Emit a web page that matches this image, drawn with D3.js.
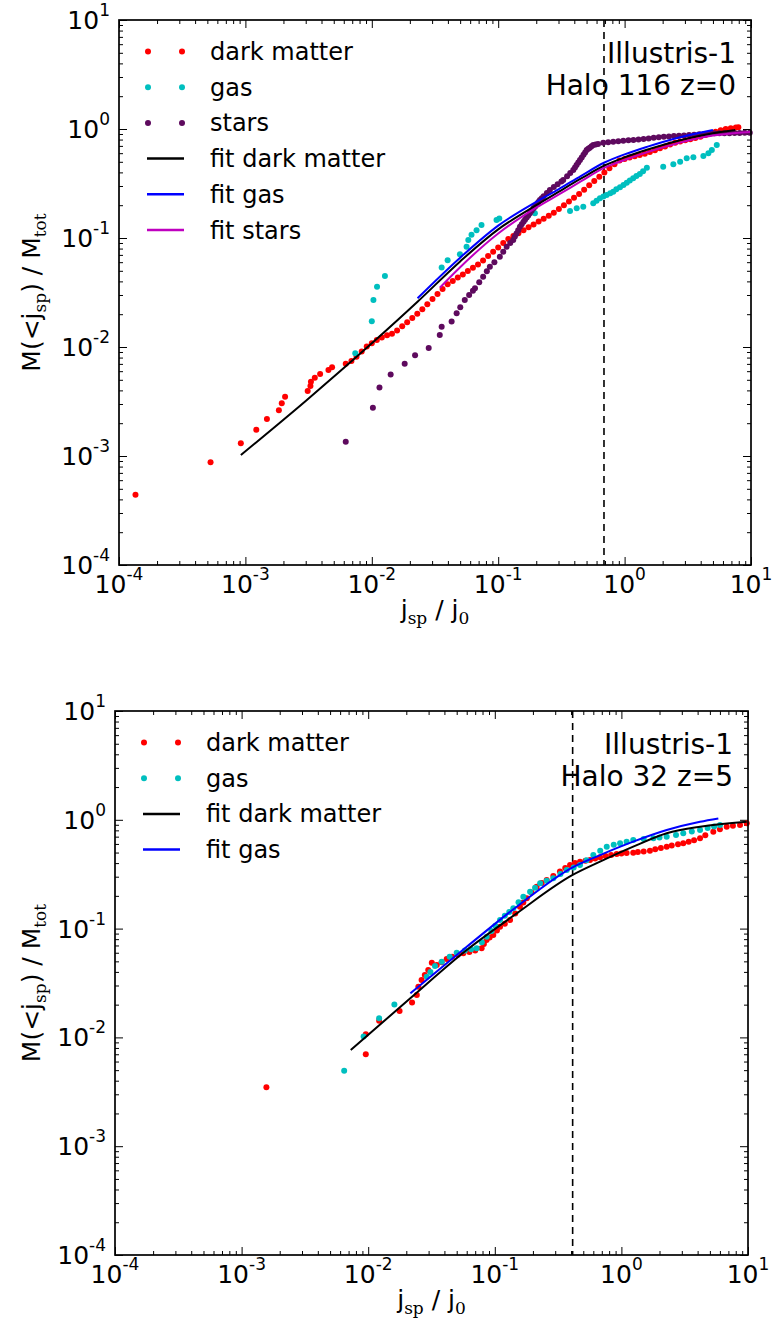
<!DOCTYPE html>
<html><head><meta charset="utf-8">
<script src="https://cdn.jsdelivr.net/npm/d3@7"></script>
<style>body{margin:0;background:#fff} svg{display:block}</style>
</head><body>
<svg id="chart" width="774" height="1333"></svg>
<script>
// ---------------- DATA ----------------
// x = j_sp / j_0 , y = M(<j_sp)/M_tot
const xTickValues = [1e-4, 1e-3, 1e-2, 1e-1, 1e0, 1e1];
const yTickValues = [1e-4, 1e-3, 1e-2, 1e-1, 1e0, 1e1];
const tickExponents = ["-4", "-3", "-2", "-1", "0", "1"];

// Panel 1 : Halo 116 z=0
const p1DarkMatter = [
 [1.35e-4,4.4e-4],[5.3e-4,8.75e-4],[9.2e-4,1.31e-3],[1.22e-3,1.74e-3],[1.48e-3,2.18e-3],[1.84e-3,2.63e-3],
 [1.94e-3,3.04e-3],[2.06e-3,3.5e-3],[3.11e-3,3.95e-3],[3.27e-3,4.39e-3],[3.3e-3,4.8e-3],[3.54e-3,5.23e-3],
 [3.9e-3,5.65e-3],[4.54e-3,6.15e-3],[4.85e-3,6.52e-3],[6.22e-3,7.03e-3],[6.9e-3,7.44e-3],[7.57e-3,8.14e-3],
 [8.32e-3,9.1e-3],[9.12e-3,1.01e-2],[1.0e-2,1.08e-2],[1.096e-2,1.16e-2],[1.2e-2,1.22e-2],[1.32e-2,1.28e-2],
 [1.445e-2,1.32e-2],[1.585e-2,1.42e-2],[1.74e-2,1.55e-2],[1.905e-2,1.69e-2],[2.09e-2,1.85e-2],[2.29e-2,2.02e-2],
 [2.51e-2,2.22e-2],[2.75e-2,2.47e-2],[3.02e-2,2.75e-2],[3.31e-2,3.06e-2],[3.63e-2,3.41e-2],[3.98e-2,3.77e-2],
 [4.37e-2,4.04e-2],[4.79e-2,4.33e-2],[5.25e-2,4.63e-2],[5.75e-2,4.97e-2],[6.31e-2,5.33e-2],[6.92e-2,5.71e-2],
 [7.59e-2,6.21e-2],[8.32e-2,6.82e-2],[9.12e-2,7.48e-2],[0.1,8.2e-2],[0.1096,9.02e-2],[0.1202,9.8e-2],
 [0.1318,0.1042],[0.1445,0.1107],[0.1585,0.1178],[0.1738,0.1253],[0.1905,0.133],[0.2089,0.1416],
 [0.229,0.1503],[0.2512,0.16],[0.2754,0.1702],[0.302,0.1845],[0.331,0.1995],[0.363,0.216],[0.398,0.234],
 [0.4365,0.2535],[0.4786,0.2773],[0.5248,0.304],[0.5754,0.3334],[0.631,0.3656],[0.6918,0.4],[0.7586,0.4355],
 [0.8318,0.4742],[0.912,0.5152],[1.0,0.532],[1.096,0.547],[1.202,0.5623],[1.318,0.5768],[1.445,0.593],
 [1.585,0.614],[1.738,0.638],[1.905,0.665],[2.089,0.692],[2.291,0.721],[2.512,0.746],[2.754,0.766],
 [3.02,0.787],[3.311,0.807],[3.631,0.828],[3.981,0.851],[4.365,0.881],[4.786,0.91],[5.248,0.942],
 [5.754,0.973],[6.31,1.0],[6.918,1.015],[7.586,1.03],[7.943,1.035]
];
const p1Gas = [
 [7.4e-3,8.75e-3],[1.0e-2,1.72e-2],[1.03e-2,2.7e-2],[1.1e-2,3.57e-2],[1.27e-2,4.48e-2],
 [3.57e-2,5.35e-2],[3.98e-2,6.24e-2],[4.98e-2,7.08e-2],[5.62e-2,8.32e-2],[5.8e-2,9.6e-2],[6.15e-2,0.107],
 [6.74e-2,0.118],[7.38e-2,0.1315],[9.7e-2,0.146],[0.102,0.151],[0.195,0.169],
 [0.37,0.177],[0.418,0.187],[0.471,0.194],[0.565,0.208],[0.6,0.22],[0.638,0.231],[0.68,0.24],[0.721,0.248],
 [0.77,0.257],[0.813,0.266],[0.86,0.28],[0.92,0.292],[0.98,0.307],[1.04,0.322],[1.1,0.337],[1.17,0.353],
 [1.24,0.37],[1.32,0.386],[1.4,0.41],[1.5,0.442],[2.02,0.451],[2.43,0.474],[2.75,0.501],[3.1,0.538],
 [3.5,0.55],[4.2,0.565],[4.6,0.598],[4.9,0.641],[5.36,0.713]
];
const p1Stars = [
 [6.22e-3,1.35e-3],[1.02e-2,2.77e-3],[1.15e-2,4.24e-3],[1.41e-2,5.6e-3],[1.82e-2,7.03e-3],[2.2e-2,8.4e-3],
 [2.82e-2,9.8e-3],[3.45e-2,1.29e-2],[3.57e-2,1.53e-2],[4.28e-2,1.71e-2],
 [0.0469,0.0204],[0.0501,0.0231],[0.0544,0.027],[0.0589,0.03],[0.0631,0.0329],[0.0655,0.0346],[0.0708,0.0393],
 [0.076,0.0442],[0.0813,0.0495],[0.0859,0.0546],[0.0933,0.06],[0.103,0.0673],[0.1096,0.0748],[0.1167,0.0832],
 [0.1245,0.0898],[0.1315,0.096],[0.1355,0.103],[0.1396,0.11],[0.144,0.118],[0.1486,0.127],[0.1535,0.134],
 [0.1585,0.1406],[0.163,0.147],[0.168,0.1538],[0.173,0.161],[0.178,0.1687],[0.184,0.178],
 [0.1905,0.187],[0.196,0.195],[0.2018,0.2042],[0.208,0.214],[0.2138,0.2234],[0.221,0.232],[0.229,0.2415],
 [0.2427,0.2582],[0.2564,0.2754],[0.2754,0.2931],
 [0.2951,0.3112],[0.3162,0.3304],[0.327,0.34],[0.3508,0.369],[0.3715,0.3945],[0.3926,0.4207],[0.405,0.443],
 [0.4169,0.4667],[0.43,0.492],[0.4436,0.52],[0.458,0.549],[0.4732,0.5808],[0.487,0.61],[0.501,0.6412],
 [0.516,0.658],[0.5309,0.6745],[0.548,0.694],[0.5649,0.7129],[0.59,0.722],[0.6166,0.7295],[0.6776,0.7482],
 [0.7413,0.7568],[0.8128,0.7656],[0.8913,0.7727],[0.9772,0.7798],[1.072,0.787],[1.175,0.794],[1.288,0.8017],
 [1.413,0.811],[1.549,0.82],[1.698,0.83],[1.862,0.839],[2.042,0.849],[2.239,0.855],[2.455,0.861],[2.692,0.867],
 [2.951,0.873],[3.236,0.879],[3.548,0.887],[3.89,0.893],[4.266,0.902],[4.677,0.908],[5.129,0.914],[5.623,0.914],
 [6.166,0.914],[6.761,0.916],[7.413,0.918],[8.128,0.92],[8.913,0.923],[9.772,0.925]
];
const p1FitDarkMatter = [
 [9.2e-4,1.02e-3],[3e-3,3.2e-3],[1e-2,1.08e-2],[2.3e-2,2.6e-2],[5e-2,6.1e-2],[0.1,0.12],[0.2,0.2],
 [0.3,0.265],[0.45,0.35],[0.687,0.46],[1.0,0.55],[1.5,0.645],[2.75,0.79],[5.0,0.915],[7.5,0.98]
];
const p1FitGas = [
 [2.3e-2,2.8e-2],[5e-2,6.6e-2],[0.1,0.13],[0.2,0.215],[0.3,0.28],[0.45,0.37],[0.687,0.49],[1.0,0.585],
 [1.5,0.685],[2.75,0.84],[5.0,0.98]
];
const p1FitStars = [
 [3.45e-2,3.5e-2],[5e-2,5.4e-2],[0.1,0.11],[0.2,0.19],[0.3,0.25],[0.45,0.33],[0.687,0.44],[1.0,0.52],
 [1.5,0.61],[2.75,0.75],[5.0,0.87],[9.84,0.94]
];
const p1VLine = 0.687;
const p1Text = ["Illustris-1", "Halo 116 z=0"];

// Panel 2 : Halo 32 z=5
const p2DarkMatter = [
 [1.57e-3,3.48e-3],[9.57e-3,7.0e-3],[9.57e-3,1.07e-2],[1.22e-2,1.42e-2],[1.77e-2,1.75e-2],[2.22e-2,2.09e-2],
 [2.42e-2,2.45e-2],[2.49e-2,2.92e-2],[2.64e-2,3.37e-2],[2.8e-2,3.75e-2],[2.98e-2,4.16e-2],[3.18e-2,4.86e-2],
 [3.48e-2,4.62e-2],[3.8e-2,4.9e-2],[4.17e-2,5.26e-2],[4.6e-2,5.5e-2],[5.1e-2,5.75e-2],[5.64e-2,5.93e-2],
 [6.3e-2,6.1e-2],[7.0e-2,6.3e-2],[7.87e-2,6.59e-2],[8.2e-2,7.2e-2],[8.61e-2,7.86e-2],[9.1e-2,8.3e-2],
 [9.73e-2,8.73e-2],[0.104,9.6e-2],[0.11,0.104],[0.12,0.111],[0.132,0.12],[0.145,0.138],[0.158,0.159],
 [0.168,0.174],[0.179,0.19],[0.195,0.215],[0.214,0.243],[0.235,0.262],[0.257,0.28],[0.29,0.305],[0.327,0.334],
 [0.36,0.36],[0.393,0.385],[0.43,0.4],[0.471,0.412],[0.52,0.42],[0.565,0.428],[0.62,0.44],[0.678,0.452],
 [0.75,0.464],[0.83,0.475],[0.918,0.485],[1.0,0.49],[1.1,0.495],[1.24,0.499],[1.35,0.505],[1.5,0.512],
 [1.68,0.52],[1.85,0.535],[2.05,0.55],[2.28,0.566],[2.5,0.58],[2.8,0.595],[3.08,0.608],[3.4,0.628],
 [3.75,0.65],[4.18,0.676],[4.6,0.72],[5.32,0.778],[6.0,0.82],[6.79,0.865],[7.6,0.88],[8.65,0.896],[9.77,0.929]
];
const p2Gas = [
 [6.46e-3,4.94e-3],[9.2e-3,1.02e-2],[1.22e-2,1.5e-2],[1.61e-2,2.01e-2],
 [2.9e-2,3.61e-2],[3.1e-2,4.0e-2],[3.37e-2,4.53e-2],[3.81e-2,4.97e-2],[4.4e-2,5.5e-2],[5.0e-2,6.01e-2],
 [5.8e-2,6.3e-2],[6.5e-2,6.45e-2],[7.19e-2,6.59e-2],[7.9e-2,7.5e-2],[8.63e-2,8.43e-2],[9.4e-2,9.5e-2],
 [0.101,0.106],[0.11,0.12],[0.12,0.131],[0.13,0.142],[0.14,0.154],[0.154,0.175],[0.168,0.196],[0.19,0.218],
 [0.208,0.238],[0.228,0.261],[0.257,0.275],[0.29,0.29],[0.33,0.318],[0.37,0.346],[0.42,0.365],[0.471,0.385],
 [0.53,0.425],[0.6,0.474],[0.68,0.52],[0.766,0.566],[0.87,0.59],[0.976,0.608],[1.1,0.63],[1.24,0.652],
 [1.5,0.665],[1.79,0.676],[2.0,0.688],[2.28,0.7],[2.7,0.725],[3.08,0.751],[3.6,0.78],[4.18,0.806],
 [4.8,0.84],[5.4,0.87],[6.01,0.896]
];
const p2FitDarkMatter = [
 [7.28e-3,7.66e-3],[2.15e-2,2.29e-2],[6.0e-2,6.36e-2],[0.149,0.138],[0.412,0.311],[0.678,0.412],
 [1.24,0.566],[2.28,0.751],[4.18,0.865],[9.77,0.96]
];
const p2FitGas = [
 [2.15e-2,2.54e-2],[6.0e-2,6.8e-2],[0.149,0.159],[0.412,0.366],[0.678,0.474],[1.24,0.63],[2.28,0.806],
 [4.18,0.96],[5.83,1.03]
];
const p2VLine = 0.412;
const p2Text = ["Illustris-1", "Halo 32 z=5"];

// ---------------- STYLE ----------------
const C = {dm:"#ff0000", gas:"#00bfbf", stars:"#5e0a5e", fdm:"#000000", fgas:"#0000ff", fstars:"#bf00bf"};
const FONT = "DejaVu Sans, Verdana, sans-serif";
const SERIF = "DejaVu Serif, Liberation Serif, serif";

const svg = d3.select("#chart");

function drawPanel(o) {
  const g = svg.append("g");
  const x = d3.scaleLog().domain([1e-4, 10]).range([o.L, o.R]);
  const y = d3.scaleLog().domain([1e-4, 10]).range([o.B, o.T]);
  const allX = x.ticks(), allY = y.ticks();
  const isMajor = v => Math.abs(Math.log10(v) - Math.round(Math.log10(v))) < 1e-9;
  const mkAxis = (fn, scale, vals, size) =>
    g.append("g").call(fn(scale).tickValues(vals).tickSize(size).tickFormat(""))
     .call(a => a.select(".domain").remove())
     .call(a => a.selectAll("line").attr("stroke", "#000").attr("stroke-width", 1));
  // inside ticks on all four sides
  [[d3.axisBottom, x, o.B], [d3.axisTop, x, o.T]].forEach(([fn, sc, pos]) => {
    mkAxis(fn, sc, allX.filter(isMajor), -8).attr("transform", `translate(0,${pos})`);
    mkAxis(fn, sc, allX.filter(v => !isMajor(v)), -4).attr("transform", `translate(0,${pos})`);
  });
  [[d3.axisLeft, y, o.L], [d3.axisRight, y, o.R]].forEach(([fn, sc, pos]) => {
    mkAxis(fn, sc, allY.filter(isMajor), -8).attr("transform", `translate(${pos},0)`);
    mkAxis(fn, sc, allY.filter(v => !isMajor(v)), -4).attr("transform", `translate(${pos},0)`);
  });

  // tick labels 10^n
  xTickValues.forEach((v, i) => {
    const t = g.append("text").attr("x", x(v)).attr("y", o.B + 28)
      .attr("text-anchor", "middle").attr("font-family", FONT).attr("font-size", 25).attr("fill", "#000");
    t.append("tspan").text("10");
    t.append("tspan").attr("dy", -13).attr("font-size", 17).text(tickExponents[i]);
  });
  yTickValues.forEach((v, i) => {
    const t = g.append("text").attr("x", o.L - 9).attr("y", y(v) + 9)
      .attr("text-anchor", "end").attr("font-family", FONT).attr("font-size", 25).attr("fill", "#000");
    t.append("tspan").text("10");
    t.append("tspan").attr("dy", -13).attr("font-size", 17).text(tickExponents[i]);
  });

  // axis titles
  const xt = g.append("text").attr("x", (o.L + o.R) / 2).attr("y", o.B + 53)
    .attr("text-anchor", "middle").attr("font-family", FONT).attr("font-size", 25);
  xt.append("tspan").text("j");
  xt.append("tspan").attr("font-family", SERIF).attr("font-size", 17).attr("dy", 6).text("sp");
  xt.append("tspan").attr("dy", -6).text(" / j");
  xt.append("tspan").attr("font-family", SERIF).attr("font-size", 17).attr("dy", 6).text("0");

  const cy = (o.T + o.B) / 2;
  const yt = g.append("text").attr("transform", `translate(40,${cy}) rotate(-90)`)
    .attr("text-anchor", "middle").attr("font-family", FONT).attr("font-size", 25);
  yt.append("tspan").text("M(<j");
  yt.append("tspan").attr("font-family", SERIF).attr("font-size", 17).attr("dy", 6).text("sp");
  yt.append("tspan").attr("dy", -6).text(") / M");
  yt.append("tspan").attr("font-family", SERIF).attr("font-size", 17).attr("dy", 6).text("tot");

  // vertical dashed line
  g.append("line").attr("x1", x(o.vline)).attr("x2", x(o.vline)).attr("y1", o.T).attr("y2", o.B)
    .attr("stroke", "#000").attr("stroke-width", 1.6).attr("stroke-dasharray", "7,5");

  // scatter
  const plot = g.append("g");
  o.points.forEach(s => {
    plot.append("g").selectAll("circle").data(s.data).join("circle")
      .attr("cx", d => x(d[0])).attr("cy", d => y(d[1])).attr("r", 3).attr("fill", s.color);
  });
  // fits
  const line = d3.line().x(d => x(d[0])).y(d => y(d[1])).curve(d3.curveMonotoneX);
  o.fits.forEach(f => {
    plot.append("path").attr("d", line(f.data)).attr("fill", "none")
      .attr("stroke", f.color).attr("stroke-width", 2);
  });

  // frame
  g.append("rect").attr("x", o.L).attr("y", o.T).attr("width", o.R - o.L).attr("height", o.B - o.T)
    .attr("fill", "none").attr("stroke", "#000").attr("stroke-width", 1.7);

  // legend
  const lg = g.append("g");
  o.legend.forEach((e, i) => {
    const yy = o.T + 31.5 + i * 35.7;
    if (e.type === "dot") {
      [o.L + 29, o.L + 63].forEach(cx => lg.append("circle").attr("cx", cx).attr("cy", yy).attr("r", 3).attr("fill", e.color));
    } else {
      lg.append("line").attr("x1", o.L + 28).attr("x2", o.L + 65).attr("y1", yy).attr("y2", yy)
        .attr("stroke", e.color).attr("stroke-width", 2.5);
    }
    lg.append("text").attr("x", o.L + 91).attr("y", yy + 8.5).attr("font-family", FONT)
      .attr("font-size", 24).text(e.label);
  });

  // annotation
  o.text.forEach((s, i) => {
    g.append("text").attr("x", o.R - 15).attr("y", o.T + 43 + i * 32).attr("text-anchor", "end")
      .attr("font-family", FONT).attr("font-size", 28).text(s);
  });
}

drawPanel({
  L: 119, R: 751, T: 20, B: 565, vline: p1VLine, text: p1Text,
  points: [{data: p1DarkMatter, color: C.dm}, {data: p1Gas, color: C.gas}, {data: p1Stars, color: C.stars}],
  fits: [{data: p1FitDarkMatter, color: C.fdm}, {data: p1FitGas, color: C.fgas}, {data: p1FitStars, color: C.fstars}],
  legend: [
    {type: "dot", color: C.dm, label: "dark matter"},
    {type: "dot", color: C.gas, label: "gas"},
    {type: "dot", color: C.stars, label: "stars"},
    {type: "line", color: C.fdm, label: "fit dark matter"},
    {type: "line", color: C.fgas, label: "fit gas"},
    {type: "line", color: C.fstars, label: "fit stars"}
  ]
});
drawPanel({
  L: 115, R: 748, T: 711, B: 1255, vline: p2VLine, text: p2Text,
  points: [{data: p2DarkMatter, color: C.dm}, {data: p2Gas, color: C.gas}],
  fits: [{data: p2FitDarkMatter, color: C.fdm}, {data: p2FitGas, color: C.fgas}],
  legend: [
    {type: "dot", color: C.dm, label: "dark matter"},
    {type: "dot", color: C.gas, label: "gas"},
    {type: "line", color: C.fdm, label: "fit dark matter"},
    {type: "line", color: C.fgas, label: "fit gas"}
  ]
});
</script>
</body></html>
